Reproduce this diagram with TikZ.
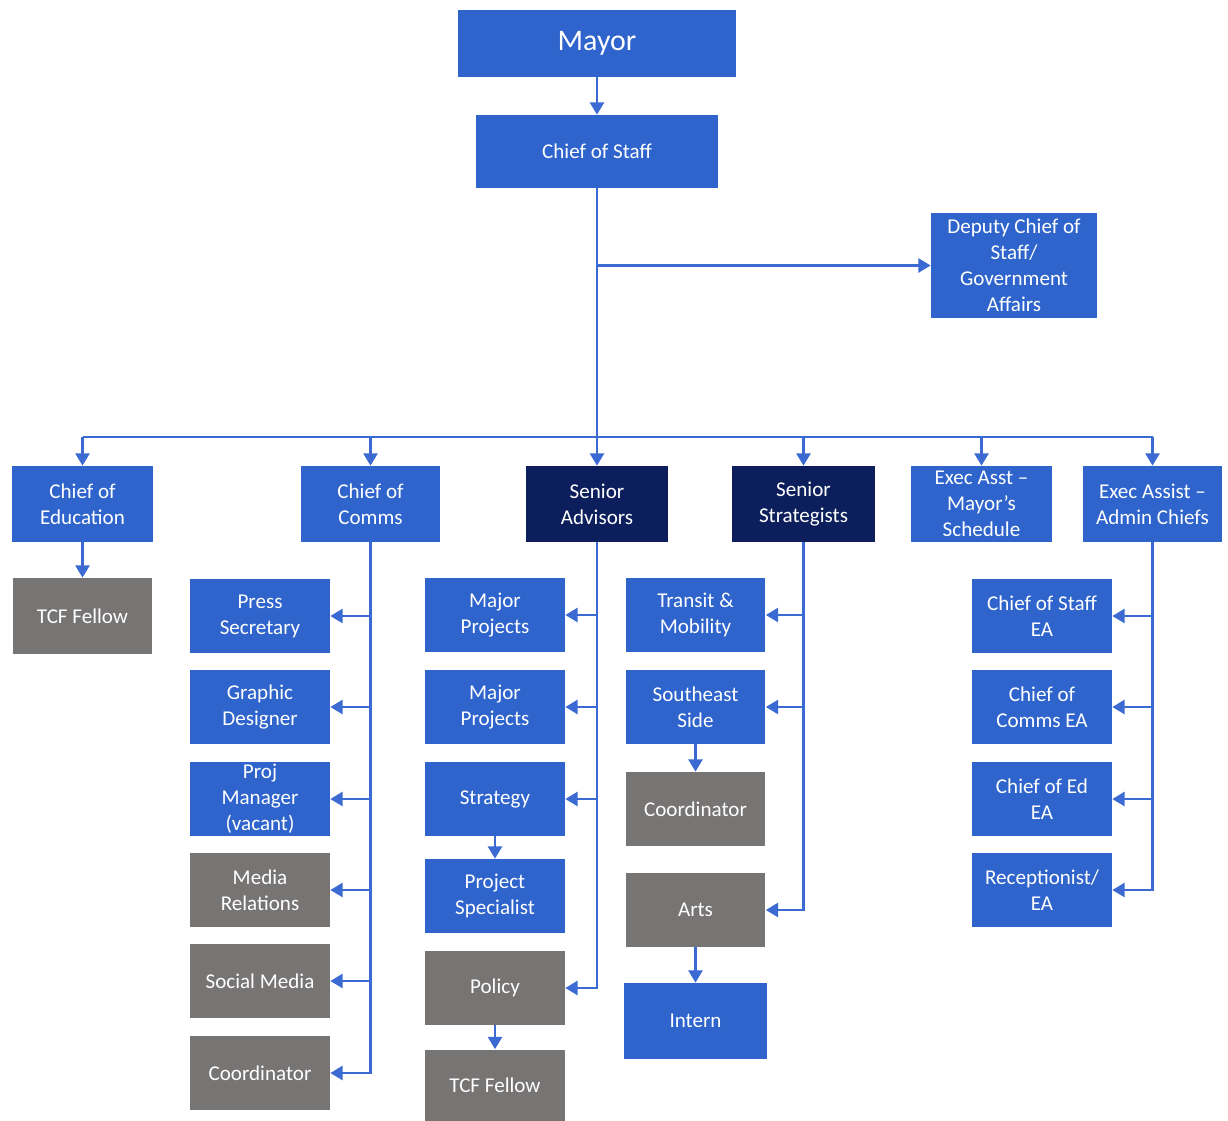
\documentclass[tikz,border=0pt]{standalone}
\usepackage{fontspec}
\setmainfont{Carlito}
\usetikzlibrary{arrows.meta}
\definecolor{boxblue}{HTML}{2E64CC}
\definecolor{boxnavy}{HTML}{0C1F5C}
\definecolor{boxgray}{HTML}{777474}
\definecolor{lineblue}{HTML}{3A6AD2}
\tikzset{block/.style = {fill=boxblue, text=white, rectangle, inner sep=0pt, align=center,
                         minimum width=2.8cm, minimum height=1.48cm, font=\fontsize{12}{14.8}\selectfont},
         navy/.style = {block, fill=boxnavy},
         grey/.style = {block, fill=boxgray},
         arr/.style = {lineblue, line width=1.4pt, -{Triangle[width=8pt,length=7pt]}},
         wire/.style = {lineblue, line width=1.4pt}}

\begin{document}
\begin{tikzpicture}[x=0.02cm,y=-0.02cm]
    \useasboundingbox (0,0) rectangle (1228,1120);
    % top of the chart
    \node[block, minimum width=5.56cm, minimum height=1.34cm, font=\fontsize{17}{20}\selectfont](mayor)at(597,43.5){Mayor};
    \node[block, minimum width=4.84cm, minimum height=1.46cm](cos)at(597,151.5){Chief of Staff};
    \node[block, minimum width=3.32cm, minimum height=2.1cm](dep)at(1014,265.5){Deputy Chief of\\Staff/\\Government\\Affairs};
    \draw[arr](mayor.south)--(cos.north);
    \coordinate(bus)at(597,437);
    % second row
    \node[block, minimum width=2.82cm, minimum height=1.52cm](edu)at(82.5,504){Chief of\\Education};
    \node[block, minimum width=2.78cm, minimum height=1.52cm](comms)at(370.5,504){Chief of\\Comms};
    \node[navy, minimum width=2.84cm, minimum height=1.52cm](adv)at(597,504){Senior\\Advisors};
    \node[navy, minimum width=2.86cm, minimum height=1.52cm](strat)at(803.5,504){Senior\\Strategists};
    \node[block, minimum width=2.82cm, minimum height=1.52cm](sched)at(981.5,504){Exec Asst --\\Mayor's\\Schedule};
    \node[block, minimum width=2.78cm, minimum height=1.52cm](admin)at(1152.5,504){Exec Assist --\\Admin Chiefs};
    \draw[arr](cos.south)--(adv.north);
    \draw[arr](cos.south |- dep.west)--(dep.west);
    \draw[wire](edu.north |- bus)--(admin.north |- bus);
    \foreach \n in {edu,comms,strat,sched,admin}
        \draw[arr](\n.north |- bus)--(\n.north);
    % education
    \node[grey, minimum height=1.52cm](tcf1)at(82.5,616){TCF Fellow};
    \draw[arr](edu.south)--(tcf1.north);
    % comms
    \node[block](press)at(260,616){Press\\Secretary};
    \node[block](graphic)at(260,707){Graphic\\Designer};
    \node[block](projm)at(260,799){Proj\\Manager\\(vacant)};
    \node[grey](media)at(260,890){Media\\Relations};
    \node[grey](social)at(260,981){Social Media};
    \node[grey](coord1)at(260,1073){Coordinator};
    \draw[arr](comms.south)|-(coord1.east);
    \foreach \n in {press,graphic,projm,media,social}
        \draw[arr](comms.south |- \n.east)--(\n.east);
    % advisors
    \node[block](major1)at(495,615){Major\\Projects};
    \node[block](major2)at(495,707){Major\\Projects};
    \node[block](strategy)at(495,799){Strategy};
    \node[block](spec)at(495,896){Project\\Specialist};
    \node[grey](policy)at(495,988){Policy};
    \node[grey, minimum height=1.42cm](tcf2)at(495,1085){TCF Fellow};
    \draw[arr](adv.south)|-(policy.east);
    \foreach \n in {major1,major2,strategy}
        \draw[arr](adv.south |- \n.east)--(\n.east);
    \draw[arr](strategy.south)--(spec.north);
    \draw[arr](policy.south)--(tcf2.north);
    % strategists
    \node[block](transit)at(695.5,615){Transit \&\\Mobility};
    \node[block](southeast)at(695.5,707){Southeast\\Side};
    \node[grey](coord2)at(695.5,809){Coordinator};
    \node[grey](arts)at(695.5,910){Arts};
    \node[block, minimum width=2.88cm, minimum height=1.52cm](intern)at(695.5,1021){Intern};
    \draw[arr](strat.south)|-(arts.east);
    \foreach \n in {transit,southeast}
        \draw[arr](strat.south |- \n.east)--(\n.east);
    \draw[arr](southeast.south)--(coord2.north);
    \draw[arr](arts.south)--(intern.north);
    % admin chiefs
    \node[block](cosea)at(1042,616){Chief of Staff\\EA};
    \node[block](commsea)at(1042,707){Chief of\\Comms EA};
    \node[block](edea)at(1042,799){Chief of Ed\\EA};
    \node[block](recep)at(1042,890){Receptionist/\\EA};
    \draw[arr](admin.south)|-(recep.east);
    \foreach \n in {cosea,commsea,edea}
        \draw[arr](admin.south |- \n.east)--(\n.east);
\end{tikzpicture}
\end{document}
